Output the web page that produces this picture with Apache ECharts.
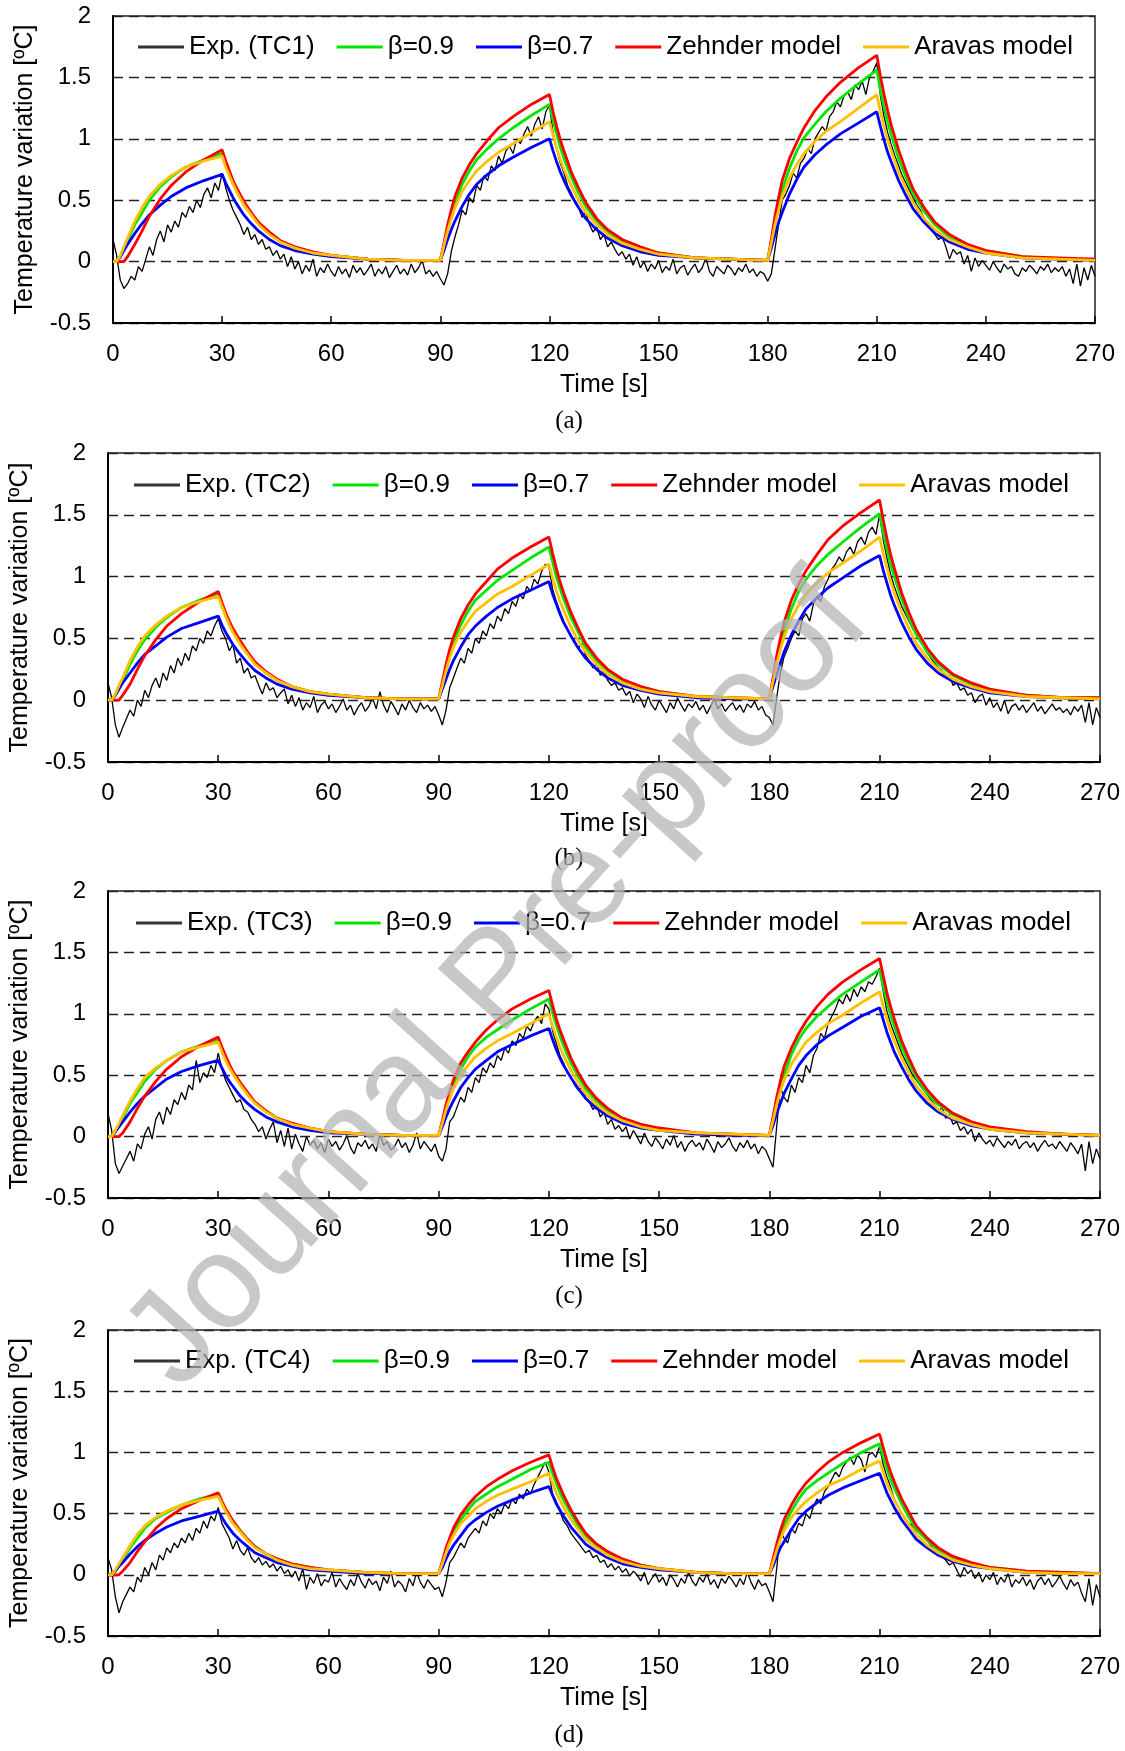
<!DOCTYPE html>
<html>
<head>
<meta charset="utf-8">
<script src="https://cdn.jsdelivr.net/npm/echarts@6/dist/echarts.min.js"></script>
<style>
  html, body { margin: 0; background: #fff; }
  #chart { width: 1125px; height: 1751px; }
</style>
</head>
<body>
<div id="chart"></div>
<script>
// model curves share one time grid [s]
const modelTime = [0,1,2,3,4,6,8,10,13,16,20,25,30, 31,32,33,34,36,38,40,43,46,50,55,60,70,80,
  90,91,92,93,94,96,98,100,103,106,110,115,120, 121,122,123,124,126,128,130,133,136,140,145,150,160,170,
  180,181,182,183,184,186,188,190,193,196,200,205,210, 211,212,213,214,216,218,220,223,226,230,235,240,250,260,270];

// experiment sampled every second, 0..270 s
const expStep = 1;

// ---- panel (a) TC1
const aExp = [0.18,0.05,-0.15,-0.22,-0.18,-0.12,-0.15,-0.04,-0.08,0.02,
  0.12,0.05,0.18,0.25,0.16,0.30,0.24,0.33,0.28,0.40,
  0.36,0.45,0.40,0.50,0.44,0.55,0.60,0.52,0.64,0.58,
  0.72,0.60,0.50,0.42,0.36,0.30,0.22,0.28,0.18,0.22,
  0.14,0.18,0.10,0.12,0.05,0.09,0.02,0.06,-0.04,0.04,
  -0.06,0.00,-0.10,-0.03,-0.08,0.02,-0.12,-0.05,-0.09,-0.02,
  -0.08,-0.12,-0.04,-0.10,-0.06,-0.13,-0.03,-0.09,-0.05,-0.11,
  -0.07,-0.02,-0.12,-0.06,-0.10,-0.04,-0.13,-0.08,-0.03,-0.10,
  -0.06,-0.11,-0.02,-0.09,-0.05,0.01,-0.10,-0.07,-0.12,-0.08,
  -0.14,-0.19,-0.10,0.08,0.20,0.30,0.42,0.38,0.52,0.48,
  0.62,0.58,0.70,0.66,0.78,0.74,0.86,0.80,0.90,0.94,
  0.88,1.00,0.96,1.04,1.10,1.02,1.12,1.18,1.08,1.22,
  1.27,1.05,0.92,0.80,0.72,0.62,0.56,0.48,0.44,0.36,
  0.40,0.30,0.24,0.28,0.18,0.22,0.12,0.16,0.10,0.05,
  0.08,0.02,0.06,-0.03,0.04,-0.05,0.00,-0.08,-0.02,-0.06,
  0.01,-0.09,-0.04,-0.07,0.02,-0.10,-0.05,-0.03,-0.11,-0.06,
  -0.02,-0.09,-0.05,0.03,-0.08,-0.12,-0.04,-0.07,-0.10,-0.03,
  -0.06,-0.11,-0.05,-0.08,-0.02,-0.09,-0.06,-0.12,-0.08,-0.10,
  -0.16,-0.10,0.10,0.30,0.50,0.55,0.62,0.72,0.68,0.80,
  0.84,0.92,0.88,1.00,1.05,1.10,1.06,1.18,1.22,1.30,
  1.26,1.35,1.38,1.32,1.44,1.40,1.47,1.36,1.50,1.55,
  1.62,1.35,1.18,1.05,0.95,0.86,0.78,0.70,0.64,0.58,
  0.52,0.46,0.42,0.35,0.30,0.26,0.22,0.18,0.20,0.12,
  0.02,0.10,0.06,0.08,-0.02,0.05,-0.08,0.03,-0.04,0.01,
  -0.03,-0.07,0.00,-0.05,-0.09,-0.02,-0.06,-0.04,-0.10,-0.12,
  -0.05,-0.08,-0.03,-0.06,-0.10,-0.04,-0.07,-0.02,-0.09,-0.05,
  -0.08,-0.04,-0.12,-0.06,-0.18,-0.02,-0.20,-0.05,-0.15,-0.03,-0.12];
const aGreen = [0,0,0.04,0.11,0.17,0.30,0.40,0.50,0.61,0.69,0.77,0.83,0.88, 0.79,0.71,0.64,0.58,0.48,0.39,0.31,0.23,0.17,0.11,0.07,0.05,0.02,0.01,
  0.01,0.13,0.26,0.37,0.47,0.63,0.74,0.83,0.92,1.00,1.09,1.19,1.28, 1.15,1.04,0.93,0.84,0.69,0.56,0.45,0.33,0.24,0.17,0.11,0.07,0.03,0.02,
  0.01,0.16,0.31,0.45,0.58,0.76,0.90,1.01,1.12,1.22,1.33,1.45,1.56, 1.40,1.26,1.14,1.03,0.84,0.69,0.55,0.41,0.30,0.20,0.13,0.09,0.04,0.02,0.02];
const aBlue = [0,0,0.04,0.09,0.14,0.23,0.31,0.38,0.46,0.53,0.60,0.66,0.71, 0.64,0.58,0.52,0.47,0.38,0.31,0.25,0.18,0.13,0.09,0.06,0.04,0.02,0.01,
  0.01,0.09,0.18,0.26,0.33,0.45,0.55,0.63,0.71,0.78,0.85,0.93,1.00, 0.90,0.81,0.73,0.66,0.54,0.44,0.35,0.26,0.19,0.13,0.08,0.05,0.03,0.02,
  0.01,0.11,0.22,0.32,0.40,0.55,0.67,0.77,0.87,0.95,1.04,1.13,1.22, 1.10,0.99,0.89,0.81,0.66,0.54,0.43,0.32,0.23,0.16,0.10,0.07,0.03,0.02,0.01];
const aRed = [0,0,0,0,0.04,0.14,0.25,0.37,0.51,0.62,0.73,0.83,0.91, 0.82,0.74,0.66,0.60,0.49,0.40,0.32,0.24,0.17,0.12,0.08,0.05,0.02,0.01,
  0.01,0.15,0.30,0.42,0.53,0.68,0.79,0.88,0.99,1.09,1.18,1.28,1.36, 1.22,1.10,0.99,0.90,0.73,0.60,0.48,0.35,0.26,0.18,0.12,0.07,0.03,0.02,
  0.01,0.18,0.37,0.52,0.66,0.84,0.97,1.09,1.23,1.34,1.46,1.58,1.68, 1.51,1.36,1.23,1.11,0.91,0.74,0.59,0.44,0.32,0.22,0.14,0.09,0.04,0.03,0.02];
const aOrange = [0,0,0.05,0.12,0.19,0.33,0.44,0.53,0.63,0.70,0.77,0.82,0.86, 0.77,0.70,0.63,0.57,0.46,0.38,0.30,0.22,0.16,0.11,0.07,0.05,0.02,0.01,
  0.01,0.13,0.25,0.35,0.44,0.57,0.66,0.74,0.82,0.89,0.96,1.05,1.14, 1.03,0.92,0.83,0.75,0.62,0.50,0.40,0.30,0.22,0.15,0.10,0.06,0.03,0.02,
  0.01,0.15,0.30,0.42,0.53,0.68,0.79,0.88,0.98,1.06,1.14,1.25,1.36, 1.22,1.10,0.99,0.90,0.73,0.60,0.48,0.35,0.26,0.18,0.12,0.07,0.03,0.02,0.01];

// ---- panel (b) TC2
const bExp = [0.14,0.02,-0.20,-0.30,-0.22,-0.15,-0.08,-0.13,0.00,-0.05,
  0.08,0.02,0.12,0.18,0.10,0.22,0.16,0.28,0.22,0.34,
  0.28,0.38,0.32,0.44,0.40,0.50,0.46,0.56,0.52,0.60,
  0.66,0.56,0.50,0.40,0.45,0.30,0.34,0.22,0.26,0.18,
  0.20,0.12,0.05,0.14,0.08,0.10,0.02,0.06,0.09,-0.03,
  0.04,-0.05,0.02,-0.08,-0.02,-0.06,0.03,-0.10,-0.04,-0.01,
  -0.07,-0.03,-0.10,-0.05,0.01,-0.08,-0.04,-0.12,-0.06,-0.02,
  -0.09,-0.05,0.02,-0.07,0.07,-0.04,-0.10,-0.01,-0.06,-0.12,
  -0.03,-0.08,0.00,-0.06,-0.10,-0.02,-0.07,-0.04,-0.09,-0.05,
  -0.12,-0.20,-0.08,0.10,0.18,0.26,0.34,0.30,0.42,0.38,
  0.50,0.46,0.56,0.52,0.62,0.58,0.68,0.64,0.74,0.70,
  0.80,0.76,0.86,0.82,0.92,0.88,0.98,0.94,1.04,1.10,
  1.08,0.90,0.80,0.72,0.64,0.58,0.52,0.48,0.42,0.46,
  0.36,0.32,0.26,0.30,0.20,0.24,0.16,0.12,0.14,0.08,
  0.10,0.04,0.07,-0.02,0.05,0.01,-0.06,0.03,-0.04,-0.08,
  0.00,-0.05,-0.10,-0.02,-0.07,0.02,-0.04,-0.09,-0.03,-0.06,
  -0.01,-0.08,-0.04,-0.11,-0.05,0.01,-0.07,-0.03,-0.09,-0.05,
  -0.02,-0.08,-0.04,-0.10,-0.03,-0.06,-0.01,-0.08,-0.05,-0.12,
  -0.14,-0.20,0.02,0.22,0.35,0.42,0.50,0.56,0.52,0.66,
  0.70,0.64,0.78,0.84,0.80,0.92,0.98,1.06,1.10,1.16,
  1.12,1.20,1.24,1.18,1.28,1.32,1.26,1.36,1.40,1.34,
  1.50,1.30,1.15,1.02,0.92,0.84,0.76,0.70,0.64,0.58,
  0.54,0.48,0.44,0.38,0.34,0.30,0.26,0.24,0.18,0.20,
  0.12,0.14,0.08,0.10,0.04,0.06,-0.02,0.03,0.05,-0.04,
  0.02,-0.06,-0.02,-0.09,0.00,-0.11,-0.05,-0.03,-0.08,-0.04,
  -0.10,-0.06,-0.02,-0.09,-0.05,-0.11,-0.07,-0.03,-0.08,-0.06,
  -0.10,-0.07,-0.12,-0.05,-0.09,-0.04,-0.18,-0.02,-0.20,-0.06,-0.14];
const bGreen = [0,0,0.04,0.10,0.16,0.29,0.40,0.49,0.59,0.67,0.75,0.81,0.86, 0.77,0.70,0.63,0.57,0.46,0.38,0.30,0.22,0.16,0.11,0.07,0.05,0.02,0.01,
  0.01,0.12,0.25,0.36,0.46,0.61,0.72,0.81,0.89,0.97,1.05,1.15,1.24, 1.12,1.00,0.91,0.82,0.67,0.55,0.43,0.32,0.24,0.16,0.11,0.07,0.03,0.02,
  0.01,0.15,0.30,0.44,0.56,0.74,0.88,0.98,1.09,1.18,1.28,1.40,1.51, 1.36,1.22,1.10,1.00,0.82,0.66,0.53,0.39,0.29,0.20,0.13,0.08,0.04,0.02,0.02];
const bBlue = [0,0,0.04,0.09,0.14,0.22,0.30,0.37,0.44,0.51,0.58,0.63,0.68, 0.61,0.55,0.50,0.45,0.37,0.30,0.24,0.18,0.13,0.09,0.06,0.04,0.02,0.01,
  0.01,0.09,0.17,0.25,0.32,0.43,0.53,0.60,0.68,0.75,0.82,0.89,0.96, 0.86,0.78,0.70,0.63,0.52,0.42,0.34,0.25,0.18,0.12,0.08,0.05,0.02,0.01,
  0.01,0.11,0.21,0.30,0.39,0.53,0.64,0.74,0.83,0.91,0.99,1.09,1.17, 1.05,0.95,0.85,0.77,0.63,0.51,0.41,0.30,0.22,0.15,0.10,0.06,0.03,0.02,0.01];
const bRed = [0,0,0,0,0.04,0.13,0.25,0.36,0.49,0.60,0.70,0.80,0.88, 0.79,0.71,0.64,0.58,0.48,0.39,0.31,0.23,0.17,0.11,0.07,0.05,0.02,0.01,
  0.01,0.15,0.29,0.41,0.51,0.66,0.77,0.86,0.96,1.06,1.15,1.24,1.32, 1.19,1.07,0.96,0.87,0.71,0.58,0.46,0.34,0.25,0.17,0.11,0.07,0.03,0.02,
  0.01,0.18,0.36,0.50,0.63,0.81,0.94,1.05,1.18,1.30,1.41,1.52,1.62, 1.46,1.31,1.18,1.07,0.87,0.71,0.57,0.42,0.31,0.21,0.14,0.09,0.04,0.02,0.02];
const bOrange = [0,0,0.05,0.12,0.18,0.32,0.43,0.52,0.61,0.68,0.75,0.80,0.84, 0.76,0.68,0.61,0.55,0.45,0.37,0.29,0.22,0.16,0.11,0.07,0.05,0.02,0.01,
  0.01,0.12,0.24,0.34,0.43,0.55,0.64,0.72,0.79,0.86,0.92,1.01,1.10, 0.99,0.89,0.80,0.73,0.59,0.48,0.39,0.29,0.21,0.14,0.09,0.06,0.03,0.02,
  0.01,0.15,0.29,0.41,0.51,0.66,0.77,0.86,0.95,1.03,1.11,1.21,1.32, 1.19,1.07,0.96,0.87,0.71,0.58,0.46,0.34,0.25,0.17,0.11,0.07,0.03,0.02,0.01];

// ---- panel (c) TC3
const cExp = [0.19,0.05,-0.22,-0.30,-0.24,-0.18,-0.12,-0.20,-0.06,-0.10,
  0.02,0.08,-0.02,0.14,0.20,0.10,0.24,0.18,0.30,0.26,
  0.36,0.30,0.42,0.38,0.62,0.44,0.52,0.48,0.58,0.52,
  0.68,0.55,0.46,0.40,0.34,0.28,0.30,0.22,0.20,0.14,
  0.10,0.04,0.08,-0.02,0.06,0.12,-0.05,0.05,-0.08,0.07,
  -0.10,0.02,-0.06,-0.12,0.00,-0.07,-0.03,-0.10,-0.05,-0.13,
  -0.02,-0.08,-0.04,-0.11,-0.06,0.01,-0.09,-0.14,-0.05,-0.08,
  -0.03,-0.10,-0.06,-0.12,0.02,-0.07,-0.04,-0.11,-0.08,-0.02,
  -0.09,-0.05,-0.13,-0.07,0.03,-0.10,-0.04,-0.08,-0.12,-0.06,
  -0.16,-0.20,-0.10,0.12,0.16,0.24,0.32,0.28,0.40,0.36,
  0.48,0.44,0.56,0.52,0.60,0.56,0.66,0.62,0.72,0.68,
  0.78,0.74,0.84,0.80,0.90,0.86,0.94,0.98,0.92,1.08,
  1.04,0.86,0.76,0.66,0.60,0.52,0.48,0.42,0.38,0.40,
  0.32,0.28,0.22,0.26,0.16,0.20,0.10,0.14,0.06,0.09,
  0.04,0.08,-0.02,0.05,0.00,-0.06,0.03,-0.04,-0.08,-0.01,
  -0.05,-0.10,-0.02,-0.07,0.01,-0.09,-0.04,-0.12,-0.06,-0.03,
  -0.08,-0.05,-0.11,-0.02,-0.07,-0.13,-0.04,-0.09,-0.06,-0.01,
  -0.08,-0.12,-0.05,-0.09,-0.03,-0.10,-0.06,-0.14,-0.08,-0.11,
  -0.18,-0.25,0.08,0.40,0.32,0.28,0.42,0.36,0.48,0.44,
  0.58,0.52,0.66,0.72,0.84,0.80,0.92,0.98,1.04,1.12,
  1.08,1.16,1.10,1.20,1.14,1.22,1.18,1.26,1.24,1.30,
  1.37,1.18,1.02,0.92,0.84,0.76,0.68,0.62,0.56,0.50,
  0.46,0.42,0.38,0.34,0.30,0.26,0.20,0.24,0.15,0.18,
  0.10,0.12,0.05,0.08,0.02,0.06,-0.04,0.03,-0.02,-0.06,
  -0.03,-0.08,-0.01,-0.05,-0.09,-0.04,-0.07,-0.02,-0.10,-0.06,
  -0.04,-0.09,-0.05,-0.12,-0.07,-0.03,-0.08,-0.06,-0.10,-0.04,
  -0.08,-0.12,-0.05,-0.09,-0.14,-0.06,-0.28,-0.04,-0.22,-0.10,-0.18];
const cGreen = [0,0,0.04,0.09,0.15,0.27,0.36,0.45,0.55,0.62,0.69,0.74,0.79, 0.71,0.64,0.58,0.52,0.43,0.35,0.28,0.21,0.15,0.10,0.07,0.04,0.02,0.01,
  0.01,0.11,0.22,0.32,0.41,0.55,0.65,0.73,0.81,0.87,0.95,1.04,1.12, 1.01,0.91,0.82,0.74,0.60,0.49,0.39,0.29,0.21,0.15,0.10,0.06,0.03,0.02,
  0.01,0.14,0.27,0.39,0.50,0.67,0.79,0.88,0.98,1.06,1.16,1.26,1.36, 1.22,1.10,0.99,0.90,0.73,0.60,0.48,0.35,0.26,0.18,0.12,0.07,0.03,0.02,0.01];
const cBlue = [0,0,0.04,0.08,0.12,0.20,0.27,0.33,0.40,0.47,0.53,0.58,0.62, 0.56,0.50,0.45,0.41,0.33,0.27,0.22,0.16,0.12,0.08,0.05,0.03,0.02,0.01,
  0.01,0.08,0.16,0.23,0.29,0.40,0.48,0.55,0.62,0.69,0.75,0.82,0.88, 0.79,0.71,0.64,0.58,0.48,0.39,0.31,0.23,0.17,0.11,0.07,0.05,0.02,0.01,
  0.01,0.09,0.19,0.27,0.35,0.47,0.58,0.66,0.75,0.82,0.89,0.98,1.05, 0.95,0.85,0.77,0.69,0.57,0.46,0.37,0.27,0.20,0.14,0.09,0.06,0.03,0.02,0.01];
const cRed = [0,0,0,0,0.03,0.12,0.23,0.33,0.45,0.55,0.65,0.74,0.81, 0.73,0.66,0.59,0.53,0.44,0.36,0.28,0.21,0.15,0.11,0.07,0.04,0.02,0.01,
  0.01,0.13,0.26,0.37,0.46,0.60,0.69,0.77,0.87,0.95,1.04,1.12,1.19, 1.07,0.96,0.87,0.79,0.64,0.52,0.42,0.31,0.23,0.15,0.10,0.07,0.03,0.02,
  0.01,0.16,0.32,0.45,0.57,0.72,0.84,0.94,1.06,1.16,1.26,1.36,1.45, 1.31,1.17,1.06,0.96,0.78,0.64,0.51,0.38,0.28,0.19,0.12,0.08,0.04,0.02,0.01];
const cOrange = [0,0,0.05,0.11,0.17,0.29,0.39,0.48,0.56,0.62,0.69,0.73,0.77, 0.69,0.62,0.56,0.51,0.42,0.34,0.27,0.20,0.15,0.10,0.07,0.04,0.02,0.01,
  0.01,0.11,0.22,0.31,0.39,0.50,0.58,0.65,0.72,0.78,0.84,0.92,1.00, 0.90,0.81,0.73,0.66,0.54,0.44,0.35,0.26,0.19,0.13,0.08,0.05,0.03,0.02,
  0.01,0.13,0.26,0.37,0.46,0.59,0.68,0.77,0.85,0.92,0.99,1.09,1.18, 1.06,0.96,0.86,0.78,0.64,0.52,0.41,0.31,0.22,0.15,0.10,0.06,0.03,0.02,0.01];

// ---- panel (d) TC4
const dExp = [0.14,0.04,-0.18,-0.31,-0.22,-0.16,-0.10,-0.14,-0.02,-0.06,
  0.06,0.00,0.10,0.04,0.16,0.12,0.22,0.18,0.26,0.22,
  0.30,0.26,0.34,0.28,0.38,0.34,0.44,0.38,0.48,0.44,
  0.55,0.42,0.36,0.30,0.21,0.28,0.20,0.16,0.22,0.14,
  0.10,0.14,0.08,0.11,0.06,0.09,0.03,0.07,0.01,0.04,
  -0.02,0.03,-0.05,0.05,-0.12,-0.02,-0.07,0.01,-0.09,-0.04,
  -0.06,0.02,-0.10,-0.03,-0.08,-0.12,-0.04,-0.09,0.01,-0.06,
  -0.11,-0.03,-0.08,-0.05,-0.13,-0.02,-0.07,0.03,-0.10,-0.05,
  -0.08,-0.14,-0.03,-0.09,0.02,-0.06,-0.11,-0.04,-0.08,-0.12,
  -0.10,-0.18,-0.06,0.10,0.14,0.20,0.26,0.22,0.30,0.34,
  0.38,0.34,0.44,0.40,0.50,0.46,0.54,0.50,0.58,0.54,
  0.62,0.58,0.66,0.62,0.70,0.66,0.74,0.80,0.86,0.92,
  0.84,0.66,0.60,0.52,0.44,0.40,0.34,0.30,0.26,0.22,
  0.18,0.20,0.14,0.16,0.10,0.12,0.06,0.09,0.04,0.07,
  0.02,0.05,-0.01,0.03,0.00,-0.05,0.02,-0.08,-0.03,0.01,
  -0.06,-0.02,-0.09,0.00,-0.04,-0.10,-0.03,-0.07,0.02,-0.05,
  -0.09,-0.02,-0.06,0.01,-0.08,-0.04,-0.11,-0.03,-0.07,-0.01,
  -0.05,-0.10,-0.03,-0.08,0.02,-0.06,-0.12,-0.04,-0.09,-0.07,
  -0.14,-0.22,0.05,0.35,0.30,0.26,0.38,0.34,0.42,0.40,
  0.50,0.46,0.56,0.62,0.58,0.68,0.72,0.78,0.84,0.80,
  0.88,0.92,0.96,0.90,0.98,0.94,0.84,0.98,1.00,0.96,
  1.05,0.90,0.80,0.72,0.62,0.56,0.50,0.46,0.42,0.40,
  0.36,0.34,0.32,0.28,0.24,0.20,0.18,0.15,0.12,0.08,
  0.10,0.04,-0.02,0.06,0.01,0.04,-0.03,0.02,-0.06,0.00,
  -0.04,0.02,-0.08,-0.02,-0.06,0.01,-0.10,-0.04,-0.07,-0.02,
  -0.09,-0.04,-0.12,-0.05,-0.02,-0.08,-0.03,-0.10,-0.06,-0.01,
  -0.07,-0.12,-0.04,-0.09,-0.06,-0.15,-0.22,-0.03,-0.25,-0.08,-0.18];
const dGreen = [0,0,0.03,0.08,0.13,0.22,0.30,0.38,0.46,0.51,0.57,0.62,0.66, 0.59,0.53,0.48,0.44,0.36,0.29,0.23,0.17,0.13,0.09,0.06,0.04,0.02,0.01,
  0.01,0.09,0.18,0.27,0.34,0.45,0.53,0.60,0.66,0.72,0.78,0.86,0.92, 0.83,0.75,0.67,0.61,0.50,0.40,0.32,0.24,0.17,0.12,0.08,0.05,0.02,0.01,
  0.01,0.11,0.21,0.31,0.40,0.52,0.62,0.70,0.77,0.83,0.91,1.00,1.07, 0.96,0.87,0.78,0.71,0.58,0.47,0.37,0.28,0.20,0.14,0.09,0.06,0.03,0.02,0.01];
const dBlue = [0,0,0.03,0.07,0.10,0.17,0.23,0.28,0.34,0.39,0.44,0.48,0.52, 0.47,0.42,0.38,0.34,0.28,0.23,0.18,0.14,0.10,0.07,0.04,0.03,0.01,0.01,
  0.01,0.06,0.13,0.19,0.24,0.32,0.40,0.45,0.51,0.56,0.61,0.67,0.72, 0.65,0.58,0.53,0.48,0.39,0.32,0.25,0.19,0.14,0.09,0.06,0.04,0.02,0.01,
  0.01,0.07,0.15,0.22,0.27,0.37,0.46,0.52,0.59,0.65,0.71,0.77,0.83, 0.75,0.67,0.61,0.55,0.45,0.37,0.29,0.22,0.16,0.11,0.07,0.05,0.02,0.01,0.01];
const dRed = [0,0,0,0,0.03,0.10,0.19,0.27,0.38,0.46,0.54,0.61,0.67, 0.60,0.54,0.49,0.44,0.36,0.29,0.23,0.17,0.13,0.09,0.06,0.04,0.02,0.01,
  0.01,0.11,0.22,0.30,0.38,0.49,0.57,0.64,0.72,0.78,0.85,0.92,0.98, 0.88,0.79,0.72,0.65,0.53,0.43,0.34,0.25,0.19,0.13,0.08,0.05,0.02,0.01,
  0.01,0.13,0.25,0.36,0.45,0.57,0.67,0.75,0.84,0.92,1.00,1.08,1.15, 1.04,0.93,0.84,0.76,0.62,0.51,0.40,0.30,0.22,0.15,0.10,0.06,0.03,0.02,0.01];
const dOrange = [0,0,0.04,0.09,0.14,0.24,0.33,0.40,0.47,0.52,0.57,0.61,0.64, 0.58,0.52,0.47,0.42,0.35,0.28,0.22,0.17,0.12,0.08,0.05,0.04,0.02,0.01,
  0.01,0.09,0.18,0.26,0.32,0.42,0.48,0.54,0.60,0.65,0.70,0.76,0.83, 0.75,0.67,0.61,0.55,0.45,0.37,0.29,0.22,0.16,0.11,0.07,0.05,0.02,0.01,
  0.01,0.10,0.20,0.29,0.36,0.47,0.54,0.60,0.67,0.73,0.78,0.86,0.93, 0.84,0.75,0.68,0.61,0.50,0.41,0.33,0.24,0.18,0.12,0.08,0.05,0.02,0.01,0.01];

const modelNames = ['β=0.9', 'β=0.7', 'Zehnder model', 'Aravas model'];
const modelColors = ['#00e600', '#0000ff', '#ff0000', '#ffc000'];
const captions = ['(a)', '(b)', '(c)', '(d)'];

const panels = [
  { exp: aExp, expName: 'Exp. (TC1)', models: [aGreen, aBlue, aRed, aOrange],
    grid: { left: 113, top: 16, width: 982, height: 307 }, legendLeft: 138, legendTop: 34, capY: 421 },
  { exp: bExp, expName: 'Exp. (TC2)', models: [bGreen, bBlue, bRed, bOrange],
    grid: { left: 108, top: 453, width: 992, height: 309 }, legendLeft: 134, legendTop: 472, capY: 858 },
  { exp: cExp, expName: 'Exp. (TC3)', models: [cGreen, cBlue, cRed, cOrange],
    grid: { left: 108, top: 891, width: 992, height: 307 }, legendLeft: 136, legendTop: 910, capY: 1296 },
  { exp: dExp, expName: 'Exp. (TC4)', models: [dGreen, dBlue, dRed, dOrange],
    grid: { left: 108, top: 1330, width: 992, height: 306 }, legendLeft: 134, legendTop: 1348, capY: 1735 }
];

const FONT = 'Liberation Sans';
panels.forEach(p => {
  if (p.exp.length !== 271) throw new Error('exp length ' + p.exp.length);
  p.models.forEach(m => { if (m.length !== modelTime.length) throw new Error('model length ' + m.length); });
});

const option = {
  animation: false,
  backgroundColor: '#fff',
  textStyle: { fontFamily: FONT, color: '#000' },
  grid: [], xAxis: [], yAxis: [], legend: [], series: [],
  graphic: []
};

panels.forEach((p, i) => {
  option.grid.push(Object.assign({ show: true, borderColor: '#222', borderWidth: 1.5, containLabel: false }, p.grid));
  option.xAxis.push({
    type: 'value', gridIndex: i, min: 0, max: 270, interval: 30,
    name: 'Time [s]', nameLocation: 'middle', nameGap: 50,
    nameTextStyle: { fontSize: 25, color: '#000', fontFamily: FONT },
    axisLine: { show: true, onZero: false, lineStyle: { color: '#000', width: 2 } },
    axisTick: { show: true, inside: true, length: 7, lineStyle: { color: '#000', width: 1.5 } },
    axisLabel: { fontSize: 24, color: '#000', margin: 19, fontFamily: FONT },
    splitLine: { show: false }
  });
  option.yAxis.push({
    type: 'value', gridIndex: i, min: -0.5, max: 2, interval: 0.5,
    name: 'Temperature variation [ºC]', nameLocation: 'middle', nameGap: 75, nameRotate: 90,
    nameTextStyle: { fontSize: 25, color: '#000', fontFamily: FONT },
    axisLine: { show: true, onZero: false, lineStyle: { color: '#000', width: 2 } },
    axisTick: { show: false },
    axisLabel: { fontSize: 24, color: '#000', margin: 22, fontFamily: FONT },
    splitLine: { show: true, lineStyle: { color: '#222', width: 1.3, type: [10, 6] } }
  });
  // legend keys are plain line strokes
  option.legend.push({
    left: p.legendLeft, top: p.legendTop, padding: 0,
    icon: 'rect', itemWidth: 46, itemHeight: 3, itemGap: 22,
    textStyle: { fontSize: 26, color: '#000', fontFamily: FONT },
    data: [{ name: p.expName, itemStyle: { color: '#333' } }].concat(modelNames)
  });
  option.series.push({
    name: p.expName, type: 'line', xAxisIndex: i, yAxisIndex: i, symbol: 'none',
    data: p.exp.map((v, k) => [k * expStep, v]),
    lineStyle: { color: '#000', width: 1.3 }, itemStyle: { color: '#000' }
  });
  p.models.forEach((arr, m) => {
    option.series.push({
      name: modelNames[m], type: 'line', xAxisIndex: i, yAxisIndex: i, symbol: 'none',
      data: modelTime.map((t, k) => [t, arr[k]]),
      lineStyle: { color: modelColors[m], width: 2.8 }, itemStyle: { color: modelColors[m] }
    });
  });
  option.graphic.push({
    type: 'text', x: 569, y: p.capY,
    style: { text: captions[i], font: '25px "Liberation Serif"', fill: '#000',
             align: 'center', verticalAlign: 'middle', textAlign: 'center', textVerticalAlign: 'middle' }
  });
});

// "Journal Pre-proof" watermark across the figure
option.graphic.push({
  type: 'text', x: 499, y: 983, rotation: 48 * Math.PI / 180, z: 100,
  style: { text: 'Journal Pre-proof', font: '134px "Liberation Sans"', fill: 'rgba(179,179,179,0.73)',
           align: 'center', verticalAlign: 'middle', textAlign: 'center', textVerticalAlign: 'middle' }
});

const chart = echarts.init(document.getElementById('chart'), null, { renderer: 'canvas' });
chart.setOption(option);
</script>
</body>
</html>
